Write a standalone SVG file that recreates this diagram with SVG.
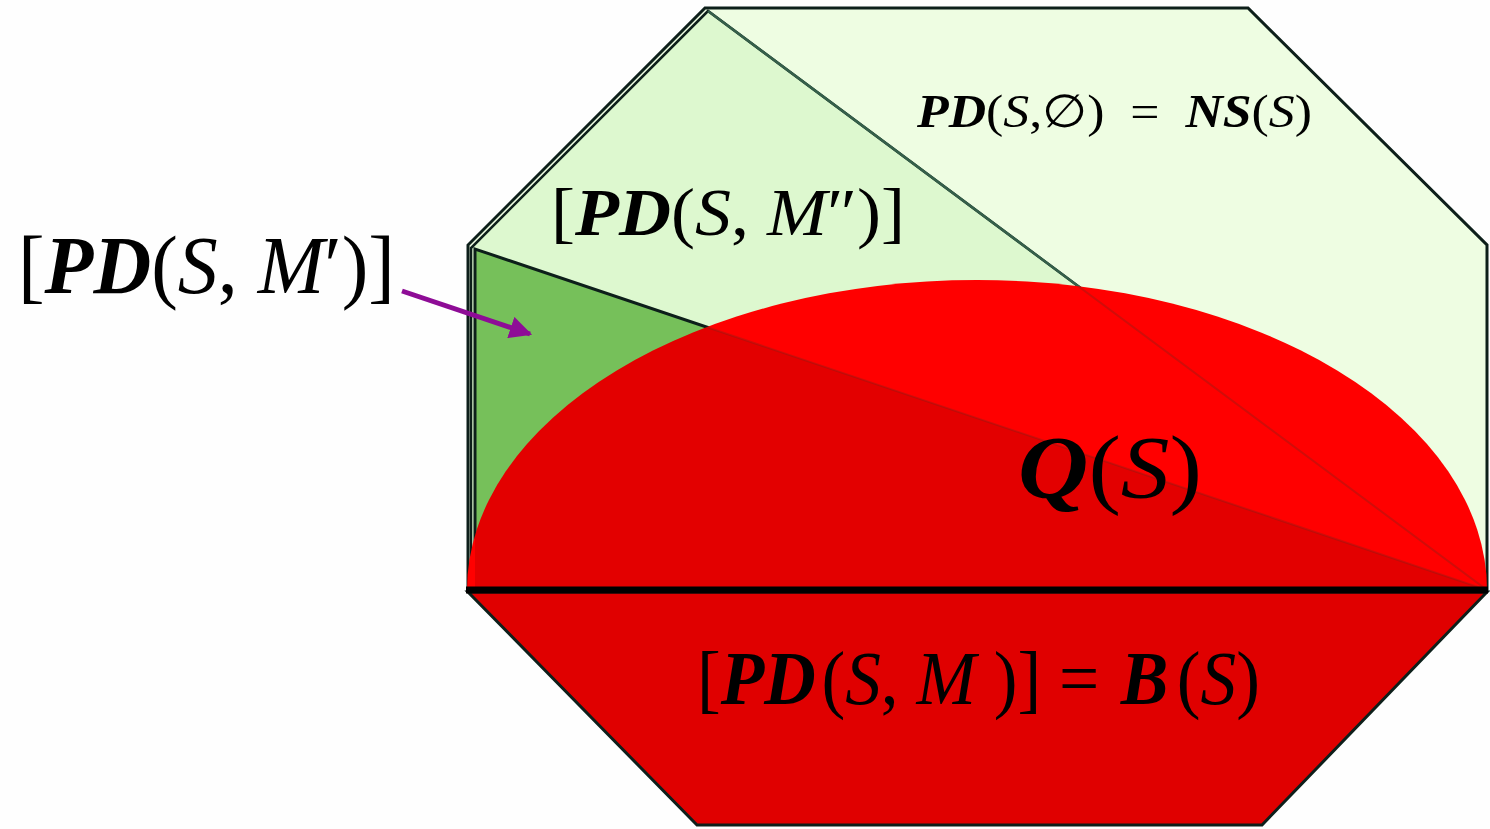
<svg xmlns="http://www.w3.org/2000/svg" width="1490" height="829" viewBox="0 0 1490 829">
<defs>
<style>
.t{font-family:"Liberation Serif","DejaVu Serif",serif;fill:#000}
.bi{font-weight:bold;font-style:italic}
.i{font-style:italic}
.edge{stroke:#0d1f1a;stroke-width:3;stroke-linejoin:miter}
</style>
<clipPath id="ellClip"><path d="M467 590 A510 310 0 0 1 1487 590 Z"/></clipPath>
<marker id="ah" viewBox="0 0 10 10" refX="9" refY="5" markerWidth="4.5" markerHeight="4.5" orient="auto" markerUnits="strokeWidth">
<path d="M0 0 L10 5 L0 10 Z" fill="#8e0c96"/>
</marker>
</defs>
<rect width="1490" height="829" fill="#fefefe"/>
<g id="ns-region">
<polygon class="edge" points="705,8 1248,8 1487,245 1487,590 468,590 468,245" fill="#eefde2"/>
</g>
<g id="pd-m2-region">
<polygon points="708,11 471,248 471,590 1487,590" fill="#ddf8cf"/>
<polyline points="1487,590 708,11 471,248 471,590" fill="none" stroke="#0d1f1a" stroke-width="2.5"/>
<line x1="708" y1="11" x2="1487" y2="590" stroke="#35604a" stroke-width="2.5"/>
</g>
<g id="pd-m1-region">
<polygon class="edge" points="475,249 475,590 1487,590" fill="#76c05a" stroke-width="2.5"/>
</g>
<g id="q-region">
<path d="M467 590 A510 310 0 0 1 1487 590 Z" fill="#ff0000"/>
<polygon points="475,249 475,590 1487,590" fill="#000" opacity="0.11" clip-path="url(#ellClip)"/>
<g clip-path="url(#ellClip)" stroke="#2d3a2a" stroke-width="2" opacity="0.22">
<line x1="708" y1="11" x2="1487" y2="590"/>
<line x1="475" y1="249" x2="1487" y2="590"/>
</g>
</g>
<g id="b-region">
<polygon class="edge" points="468,592 1487,592 1262,825 697,825" fill="#e00000"/>
</g>
<g id="connectors">
<line x1="466" y1="590" x2="1488" y2="590" stroke="#000" stroke-width="7"/>
<line x1="402" y1="291" x2="530" y2="334" stroke="#8e0c96" stroke-width="5" marker-end="url(#ah)"/>
</g>
<g id="label-ns">
<text class="t" x="917" y="127" font-size="46" textLength="395" lengthAdjust="spacingAndGlyphs"><tspan class="bi">PD</tspan>(<tspan class="i">S</tspan>,∅)&#8194;=&#8194;<tspan class="bi">NS</tspan>(<tspan class="i">S</tspan>)</text>
</g>
<g id="label-m2">
<text class="t" x="551" y="235" font-size="67" textLength="354" lengthAdjust="spacingAndGlyphs">[<tspan class="bi">PD</tspan>(<tspan class="i">S</tspan>, <tspan class="i">M</tspan>″)]</text>
</g>
<g id="label-m1">
<text class="t" x="18" y="293" font-size="82" textLength="377" lengthAdjust="spacingAndGlyphs">[<tspan class="bi">PD</tspan>(<tspan class="i">S</tspan>, <tspan class="i">M</tspan>′)]</text>
</g>
<g id="label-q">
<text class="t" x="1018" y="497" font-size="88" textLength="184" lengthAdjust="spacingAndGlyphs"><tspan class="bi">Q</tspan>(<tspan class="i">S</tspan>)</text>
</g>
<g id="label-b">
<text class="t" x="697" y="704" font-size="76" textLength="563" lengthAdjust="spacingAndGlyphs">[<tspan class="bi">PD</tspan><tspan dx="6">(</tspan><tspan class="i">S</tspan>, <tspan class="i">M</tspan> )] = <tspan class="bi" dx="4">B</tspan><tspan dx="9">(</tspan><tspan class="i">S</tspan>)</text>
</g>
</svg>
